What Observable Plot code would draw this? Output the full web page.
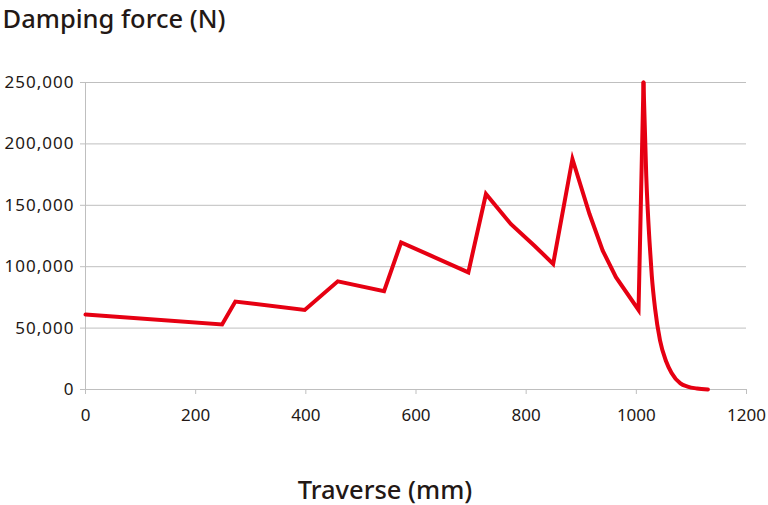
<!DOCTYPE html>
<html>
<head>
<meta charset="utf-8">
<script src="https://cdn.jsdelivr.net/npm/d3@7"></script>
<script src="https://cdn.jsdelivr.net/npm/@observablehq/plot@0.6"></script>
<style>
  html, body { margin: 0; padding: 0; background: #fff; }
  #chart { width: 768px; height: 505px; }
  g[aria-label="y-axis tick label"] text { letter-spacing: 1px; }
</style>
</head>
<body>
<div id="chart"></div>
<script>
// Main sawtooth section (straight segments)
const traverse = [0, 248, 272, 398, 458, 542, 573, 627, 695, 727, 772, 815, 849, 884, 915, 939, 963, 1004, 1013];
const force = [61000, 52900, 71600, 64800, 88100, 80000, 119800, 109000, 95400, 159200, 134800, 117100, 102300, 187700, 142900, 113100, 91400, 64800, 250000];
// Smooth decay after the final peak
const decayTraverse = [1013, 1018, 1024, 1028, 1034, 1043, 1054, 1064, 1080, 1093, 1110, 1130];
const decayForce = [250000, 174000, 120000, 93000, 66000, 40000, 23000, 13500, 5000, 2400, 800, 0];
const xTicks = [0, 200, 400, 600, 800, 1000, 1200];
const yTicks = [0, 50000, 100000, 150000, 200000, 250000];
const title = "Damping force (N)";
const xLabel = "Traverse (mm)";

const data = traverse.map((t, i) => ({t, f: force[i]}));
const decay = decayTraverse.map((t, i) => ({t, f: decayForce[i]}));
const textColor = "#231815";
const gridColor = "#bfbfbf";
const red = "#e60012";

const chart = Plot.plot({
  width: 768,
  height: 505,
  marginTop: 82,
  marginBottom: 116,
  marginLeft: 85,
  marginRight: 22,
  style: {fontFamily: "'Noto Sans', sans-serif", color: textColor, background: "#fff"},
  x: {domain: [0, 1200]},
  y: {domain: [0, 250000]},
  marks: [
    Plot.gridY(yTicks, {stroke: gridColor, strokeOpacity: 1, strokeWidth: 1}),
    Plot.ruleX([0], {stroke: gridColor, strokeWidth: 1}),
    Plot.axisY(yTicks, {
      tickFormat: d3.format(","), tickSize: 5, tickPadding: 6,
      stroke: gridColor, fill: textColor, fontSize: 17, label: null
    }),
    Plot.axisX(xTicks, {
      tickFormat: d => String(d), tickSize: 5, tickPadding: 14,
      stroke: gridColor, fill: textColor, fontSize: 17, label: null
    }),
    Plot.line(data, {x: "t", y: "f", stroke: red, strokeWidth: 4, strokeLinejoin: "miter", strokeMiterlimit: 10, strokeLinecap: "round"}),
    Plot.line(decay, {x: "t", y: "f", stroke: red, strokeWidth: 4, curve: "monotone-x", strokeLinecap: "round"}),
    Plot.text([title], {frameAnchor: "top-left", text: d => d, dx: -83, dy: -55, fontSize: 25.5, fontWeight: 500, fill: textColor, textAnchor: "start", lineAnchor: "bottom"}),
    Plot.text([xLabel], {frameAnchor: "bottom", text: d => d, dx: -31, dy: 109, fontSize: 25.5, fontWeight: 500, fill: textColor, lineAnchor: "bottom"})
  ]
});
document.getElementById("chart").appendChild(chart);
</script>
</body>
</html>
